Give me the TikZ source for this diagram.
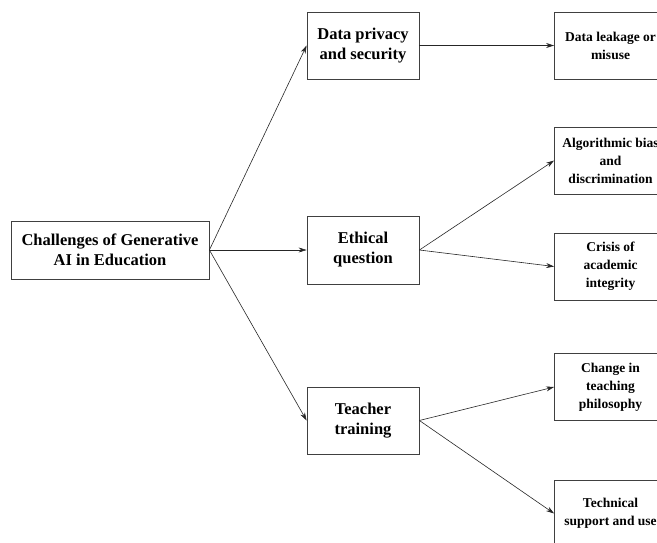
\documentclass[tikz,border=0pt]{standalone}
\usepackage{fontspec}
\setmainfont{Liberation Serif}
\usetikzlibrary{arrows.meta}

\tikzset{
  topic/.style={draw=black!75, thick, fill=white, align=center, inner sep=0pt,
    font=\fontsize{16.5}{20}\selectfont\bfseries},
  subtopic/.style={draw=black!75, thick, fill=white, align=center, inner sep=0pt,
    minimum width=112pt, minimum height=67pt,
    font=\fontsize{13.5}{18}\selectfont\bfseries},
  link/.style={draw=black!85, semithick, -{Stealth[length=8pt,width=5pt]}}
}

\begin{document}
\begin{tikzpicture}[x=1pt, y=-1pt]
\useasboundingbox (0,0) rectangle (657,542);
\clip (0,0) rectangle (657,542);

% Main challenge
\node[topic, minimum width=198pt, minimum height=58pt] (root) at (110,250)
  {Challenges of Generative\\AI in Education};

% Three aspects
\node[topic, minimum width=112pt, minimum height=67pt] (privacy) at (363,45.5)
  {Data privacy\\and security};
\node[topic, minimum width=112pt, minimum height=68pt] (ethic) at (363,250)
  {Ethical\\question};
\node[topic, minimum width=112pt, minimum height=67pt] (teacher) at (363,420.5)
  {Teacher\\training};

% Concrete problems
\node[subtopic] (leak) at (610.5,45.5) {Data leakage or\\misuse};
\node[subtopic] (bias) at (610.5,160.5) {Algorithmic bias\\and\\discrimination};
\node[subtopic] (integrity) at (610.5,266.5) {Crisis of\\academic\\integrity};
\node[subtopic] (philo) at (610.5,387) {Change in\\teaching\\philosophy};
\node[subtopic] (support) at (610.5,513.5) {Technical\\support and use};

% Links from the root
\draw[link] (root.east) -- (privacy.west);
\draw[link] (root.east) -- (ethic.west);
\draw[link] (root.east) -- (teacher.west);

% Links to the problems
\draw[link] (privacy.east) -- (leak.west);
\draw[link] (ethic.east) -- (bias.west);
\draw[link] (ethic.east) -- (integrity.west);
\draw[link] (teacher.east) -- (philo.west);
\draw[link] (teacher.east) -- (support.west);
\end{tikzpicture}
\end{document}
